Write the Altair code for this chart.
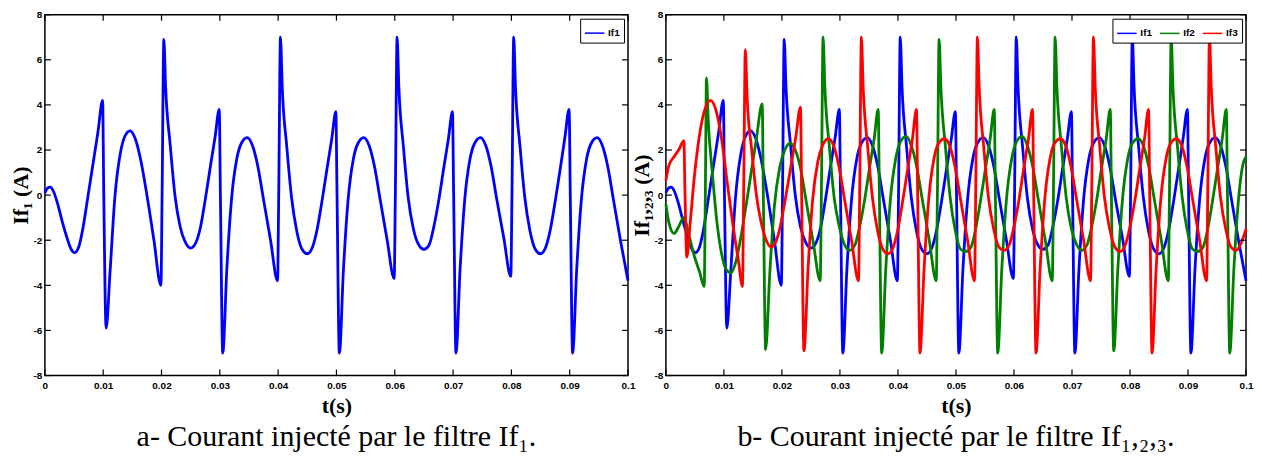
import altair as alt
import pandas as pd

# ---------------- data (time in ms, current in A) ----------------
T_IF1 = [0, 0.4, 0.9, 1.5, 2.2, 3.0, 3.8, 4.5, 5.1, 5.8, 6.5, 7.3, 8.2, 9.1, 9.9,
         10.1, 10.5, 11.2, 12.0, 12.9, 13.7, 14.6, 15.5, 16.4, 17.5, 18.7, 19.9,
         20.1, 20.4, 20.7, 21.5, 22.3, 23.2, 24.1, 25.0, 25.9, 26.7, 27.5, 28.4, 29.2, 29.9,
         30.1, 30.5, 31.2, 32.0, 32.9, 33.7, 34.7, 35.6, 36.5, 37.5, 38.7, 39.9,
         40.1, 40.4, 40.7, 41.5, 42.3, 43.2, 44.1, 45.0, 45.9, 46.7, 47.5, 48.4, 49.2, 49.9,
         50.1, 50.5, 51.2, 52.0, 52.9, 53.7, 54.7, 55.6, 56.5, 57.5, 58.7, 59.9,
         60.1, 60.4, 60.7, 61.5, 62.3, 63.2, 64.1, 65.0, 65.9, 66.7, 67.5, 68.4, 69.2, 69.9,
         70.1, 70.5, 71.2, 72.0, 72.9, 73.7, 74.7, 75.6, 76.5, 77.5, 78.7, 79.9,
         80.1, 80.4, 80.7, 81.5, 82.3, 83.2, 84.1, 85.0, 85.9, 86.7, 87.5, 88.4, 89.2, 89.9,
         90.1, 90.5, 91.2, 92.0, 92.9, 93.7, 94.7, 95.6, 96.5, 97.5, 98.7, 100.0]
V_IF1 = [0.1, 0.3, 0.35, 0.15, -0.4, -1.2, -1.9, -2.4, -2.55, -2.3, -1.5, -0.2, 1.3, 2.8, 4.2,
         0.0, -5.9, -3.3, -0.1, 1.8, 2.6, 2.85, 2.5, 1.6, 0.0, -2.0, -4.0,
         0.0, 6.9, 4.8, 2.2, 0.0, -1.4, -2.1, -2.35, -2.1, -1.4, -0.2, 1.3, 2.6, 3.8,
         0.0, -7.0, -3.3, -0.2, 1.6, 2.3, 2.55, 2.2, 1.3, -0.2, -2.0, -3.8,
         0.0, 7.0, 4.8, 2.1, -0.1, -1.6, -2.4, -2.6, -2.3, -1.5, -0.3, 1.2, 2.5, 3.7,
         0.0, -7.0, -3.3, -0.2, 1.6, 2.3, 2.55, 2.2, 1.3, -0.2, -2.0, -3.7,
         0.0, 7.0, 4.8, 2.1, -0.1, -1.5, -2.2, -2.4, -2.2, -1.4, -0.3, 1.2, 2.5, 3.7,
         0.0, -7.0, -3.3, -0.2, 1.6, 2.3, 2.55, 2.2, 1.3, -0.2, -1.9, -3.6,
         0.0, 7.0, 4.8, 2.1, -0.1, -1.6, -2.4, -2.6, -2.3, -1.5, -0.3, 1.2, 2.6, 3.8,
         0.0, -7.0, -3.3, -0.2, 1.6, 2.3, 2.55, 2.2, 1.3, -0.2, -2.0, -3.8]

T_IF2 = [0, 0.5, 1.4, 2.2, 3.1, 4.0, 4.9, 5.8, 6.6,
         6.8, 7.0, 7.3, 8.0, 8.8, 9.6, 10.4, 11.2, 12.0, 12.9, 13.8, 14.7, 15.6, 16.6,
         16.8, 17.2, 17.9, 18.7, 19.6, 20.5, 21.4, 22.3, 23.2, 24.2, 25.4, 26.6,
         26.8, 27.1, 27.4, 28.2, 29.0, 29.9, 30.8, 31.7, 32.6, 33.4, 34.2, 35.1, 35.9, 36.6,
         36.8, 37.2, 37.9, 38.7, 39.6, 40.4, 41.4, 42.3, 43.2, 44.2, 45.4, 46.6,
         46.8, 47.1, 47.4, 48.2, 49.0, 49.9, 50.8, 51.7, 52.6, 53.4, 54.2, 55.1, 55.9, 56.6,
         56.8, 57.2, 57.9, 58.7, 59.6, 60.4, 61.4, 62.3, 63.2, 64.2, 65.4, 66.6,
         66.8, 67.1, 67.4, 68.2, 69.0, 69.9, 70.8, 71.7, 72.6, 73.4, 74.2, 75.1, 75.9, 76.6,
         76.8, 77.2, 77.9, 78.7, 79.6, 80.4, 81.4, 82.3, 83.2, 84.2, 85.4, 86.6,
         86.8, 87.1, 87.4, 88.2, 89.0, 89.9, 90.8, 91.7, 92.6, 93.4, 94.2, 95.1, 95.9, 96.6,
         96.8, 97.2, 97.9, 98.7, 99.5, 100.0]
V_IF2 = [-0.4, -1.2, -1.7, -1.4, -1.0, -1.8, -2.7, -3.4, -4.05,
         0.0, 5.2, 3.3, 1.0, -1.2, -2.6, -3.3, -3.45, -3.0, -1.9, -0.5, 1.0, 2.5, 4.05,
         0.0, -6.85, -3.5, -0.5, 1.2, 2.0, 2.3, 2.0, 1.2, -0.3, -2.1, -3.8,
         0.0, 7.0, 4.8, 2.1, -0.1, -1.4, -2.2, -2.45, -2.2, -1.4, -0.3, 1.2, 2.5, 3.8,
         0.0, -7.0, -3.3, -0.2, 1.6, 2.35, 2.6, 2.2, 1.3, -0.2, -2.0, -3.8,
         0.0, 6.9, 4.8, 2.1, -0.1, -1.6, -2.4, -2.5, -2.3, -1.5, -0.3, 1.2, 2.5, 3.8,
         0.0, -7.0, -3.3, -0.2, 1.6, 2.35, 2.6, 2.2, 1.3, -0.2, -2.0, -3.8,
         0.0, 7.0, 4.8, 2.1, -0.1, -1.5, -2.2, -2.45, -2.2, -1.4, -0.3, 1.2, 2.5, 3.8,
         0.0, -6.9, -3.3, -0.2, 1.6, 2.3, 2.5, 2.2, 1.3, -0.2, -2.0, -3.8,
         0.0, 7.0, 4.8, 2.1, -0.1, -1.6, -2.4, -2.5, -2.3, -1.5, -0.3, 1.2, 2.5, 3.8,
         0.0, -7.0, -3.3, -0.2, 1.4, 1.7]

T_IF3 = [0, 0.5, 1.4, 2.2, 3.1,
         3.3, 3.6, 4.2, 4.9, 5.7, 6.6, 7.7, 8.7, 9.6, 10.6, 11.6, 12.5, 13.2,
         13.4, 13.7, 14.0, 14.8, 15.6, 16.5, 17.3, 18.1, 18.9, 19.7, 20.5, 21.5, 22.4, 23.2,
         23.4, 23.8, 24.5, 25.3, 26.2, 27.0, 28.0, 28.9, 29.8, 30.8, 32.0, 33.2,
         33.4, 33.7, 34.0, 34.8, 35.6, 36.5, 37.4, 38.3, 39.2, 40.0, 40.8, 41.7, 42.5, 43.2,
         43.4, 43.8, 44.5, 45.3, 46.2, 47.0, 48.0, 48.9, 49.8, 50.8, 52.0, 53.2,
         53.4, 53.7, 54.0, 54.8, 55.6, 56.5, 57.4, 58.3, 59.2, 60.0, 60.8, 61.7, 62.5, 63.2,
         63.4, 63.8, 64.5, 65.3, 66.2, 67.0, 68.0, 68.9, 69.8, 70.8, 72.0, 73.2,
         73.4, 73.7, 74.0, 74.8, 75.6, 76.5, 77.4, 78.3, 79.2, 80.0, 80.8, 81.7, 82.5, 83.2,
         83.4, 83.8, 84.5, 85.3, 86.2, 87.0, 88.0, 88.9, 89.8, 90.8, 92.0, 93.2,
         93.4, 93.7, 94.0, 94.8, 95.6, 96.5, 97.4, 98.3, 99.2, 100.0]
V_IF3 = [0.65, 1.3, 1.7, 2.0, 2.4,
         0.0, -2.75, -1.2, 0.8, 2.5, 3.7, 4.2, 3.7, 2.5, 0.5, -1.4, -2.9, -4.05,
         0.0, 6.45, 4.35, 2.0, 0.0, -1.3, -2.0, -2.3, -2.1, -1.4, -0.3, 1.2, 2.6, 3.9,
         0.0, -6.9, -3.3, -0.2, 1.5, 2.2, 2.5, 2.2, 1.3, -0.2, -2.0, -3.8,
         0.0, 7.0, 4.8, 2.1, -0.1, -1.6, -2.4, -2.6, -2.3, -1.5, -0.3, 1.2, 2.5, 3.8,
         0.0, -7.0, -3.3, -0.2, 1.6, 2.3, 2.5, 2.2, 1.3, -0.2, -2.0, -3.8,
         0.0, 7.0, 4.8, 2.1, -0.1, -1.5, -2.3, -2.45, -2.2, -1.4, -0.3, 1.2, 2.5, 3.8,
         0.0, -7.0, -3.3, -0.2, 1.6, 2.3, 2.5, 2.2, 1.3, -0.2, -2.0, -3.8,
         0.0, 7.0, 4.8, 2.1, -0.1, -1.5, -2.3, -2.5, -2.2, -1.4, -0.3, 1.2, 2.5, 3.8,
         0.0, -7.0, -3.3, -0.2, 1.6, 2.3, 2.5, 2.2, 1.3, -0.2, -2.0, -3.8,
         0.0, 7.0, 4.8, 2.1, -0.1, -1.5, -2.3, -2.45, -2.1, -1.5]

X_TICKS = [0, 0.01, 0.02, 0.03, 0.04, 0.05, 0.06, 0.07, 0.08, 0.09, 0.1]
Y_TICKS = [-8, -6, -4, -2, 0, 2, 4, 6, 8]
SERIES = ["If1", "If2", "If3"]
COLORS = ["#0000ff", "#008000", "#ff0000"]

CAPTION_A = "a- Courant injecté par le filtre If₁."
CAPTION_B = "b- Courant injecté par le filtre If₁,₂,₃."
YTITLE_A = "If₁ (A)"
YTITLE_B = "If₁,₂,₃ (A)"
XTITLE = "t(s)"


def frame(ts, vs, name):
    return pd.DataFrame({"t": [x / 1000.0 for x in ts], "v": vs, "series": name})


F1 = frame(T_IF1, V_IF1, "If1")
F2 = frame(T_IF2, V_IF2, "If2")
F3 = frame(T_IF3, V_IF3, "If3")

LABEL_FONT = "Liberation Sans"
TITLE_FONT = "Liberation Serif"
TICK_LEN = 6
CAPTION_SIZE = 30


def panel(frames, names, colors, ytitle, caption, W, H, legend_kw):
    xenc = alt.X(
        "t:Q",
        scale=alt.Scale(domain=[0, 0.1], nice=False, zero=False),
        axis=alt.Axis(
            values=X_TICKS, ticks=False, domain=False, grid=False,
            labelExpr="'' + datum.value", labelFont=LABEL_FONT, labelFontWeight="bold",
            labelFontSize=10, labelColor="black", labelPadding=5, labelFlush=False,
            title=XTITLE, titleFont=TITLE_FONT, titleFontSize=22, titleFontWeight="bold",
            titleColor="black", titlePadding=5,
        ),
    )
    yenc = alt.Y(
        "v:Q",
        scale=alt.Scale(domain=[-8, 8], nice=False, zero=False),
        axis=alt.Axis(
            values=Y_TICKS, ticks=False, domain=False, grid=False,
            labelExpr="'' + datum.value", labelFont=LABEL_FONT, labelFontWeight="bold",
            labelFontSize=10, labelColor="black", labelPadding=3, labelFlush=False,
            title=ytitle, titleFont=TITLE_FONT, titleFontSize=22, titleFontWeight="bold",
            titleColor="black", titlePadding=1,
        ),
    )
    color = alt.Color(
        "series:N",
        scale=alt.Scale(domain=names, range=colors),
        legend=alt.Legend(
            title=None, orient="top-right", offset=4, strokeColor="black",
            fillColor="white", padding=4, symbolType="stroke", symbolSize=380,
            symbolStrokeWidth=1.5, labelFont=LABEL_FONT, labelFontWeight="bold",
            labelFontSize=10, labelColor="black", labelOffset=3, **legend_kw,
        ),
    )
    lines = [
        alt.Chart(f).mark_line(strokeWidth=2.8, interpolate="monotone").encode(
            x=xenc, y=yenc, color=color)
        for f in frames
    ]
    xt = pd.DataFrame({"t": X_TICKS})
    yt = pd.DataFrame({"v": Y_TICKS})
    rule = dict(color="black", strokeWidth=1.2)
    bottom = alt.Chart(xt).mark_rule(**rule).encode(x=xenc, y=alt.value(H), y2=alt.value(H - TICK_LEN))
    top = alt.Chart(xt).mark_rule(**rule).encode(x=xenc, y=alt.value(0), y2=alt.value(TICK_LEN))
    left = alt.Chart(yt).mark_rule(**rule).encode(y=yenc, x=alt.value(0), x2=alt.value(TICK_LEN))
    right = alt.Chart(yt).mark_rule(**rule).encode(y=yenc, x=alt.value(W), x2=alt.value(W - TICK_LEN))
    return alt.layer(*lines, bottom, top, left, right).properties(
        width=W, height=H,
        title=alt.TitleParams(
            text=caption, orient="bottom", anchor="middle", font=TITLE_FONT,
            fontSize=CAPTION_SIZE, fontWeight="normal", color="black", offset=6,
        ),
    )


left_panel = panel([F1], SERIES[:1], COLORS[:1], YTITLE_A, CAPTION_A, 585, 362, {})
right_panel = panel([F1, F2, F3], SERIES, COLORS, YTITLE_B, CAPTION_B, 582, 362,
                    {"direction": "horizontal", "columnPadding": 4})

chart = (
    alt.hconcat(left_panel, right_panel, spacing=38, bounds="flush")
    .resolve_scale(color="independent")
    .resolve_legend(color="independent")
    .properties(padding=0, background="white")
    .configure(
        view=alt.ViewConfig(stroke="black", strokeWidth=1.5),
        title=alt.TitleConfig(font=TITLE_FONT, fontSize=CAPTION_SIZE, fontWeight="normal",
                              color="black"),
    )
)

chart.save("out.html", embed_options={"renderer": "svg", "actions": False})
